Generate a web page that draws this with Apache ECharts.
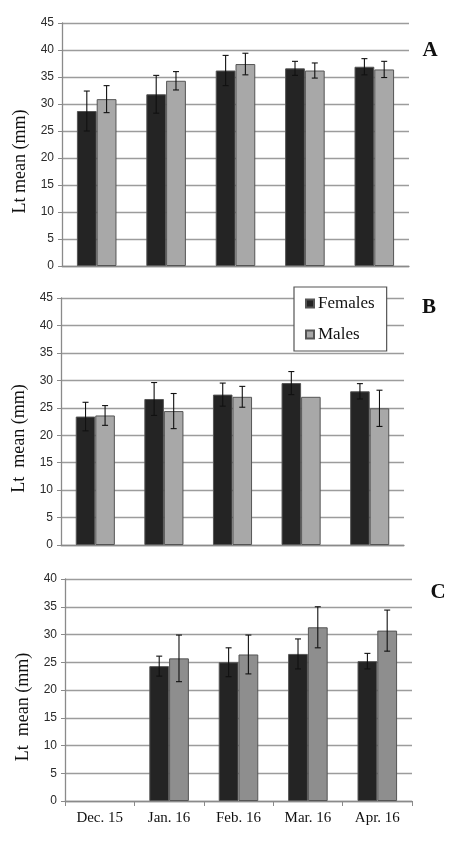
<!DOCTYPE html>
<html>
<head>
<meta charset="utf-8">
<script src="https://cdn.jsdelivr.net/npm/echarts@6/dist/echarts.min.js"></script>
<style>
  html, body { margin: 0; padding: 0; background: #fff; }
  #chart { width: 450px; height: 848px; }
</style>
</head>
<body>
<div id="chart"></div>
<script>
// data (Lt mean in mm, +/- error)
const months = ['Dec. 15', 'Jan. 16', 'Feb. 16', 'Mar. 16', 'Apr. 16']
const yTicksAB = [0, 5, 10, 15, 20, 25, 30, 35, 40, 45]
const yTicksC = [0, 5, 10, 15, 20, 25, 30, 35, 40]

const femalesA = [28.7, 31.8, 36.2, 36.6, 36.9]
const femalesErrA = [3.7, 3.5, 2.8, 1.3, 1.5]
const malesA = [30.9, 34.3, 37.4, 36.2, 36.4]
const malesErrA = [2.5, 1.7, 2.0, 1.4, 1.5]

const femalesB = [23.4, 26.6, 27.4, 29.5, 28.0]
const femalesErrB = [2.6, 3.0, 2.1, 2.1, 1.4]
const malesB = [23.6, 24.4, 27.0, 27.0, 24.9]
const malesErrB = [1.8, 3.2, 1.9, 0, 3.3]

const femalesC = [null, 24.3, 25.0, 26.5, 25.2]
const femalesErrC = [null, 1.8, 2.6, 2.7, 1.4]
const malesC = [null, 25.7, 26.4, 31.3, 30.7]
const malesErrC = [null, 4.2, 3.5, 3.7, 3.7]

const panels = [
  { letter: 'A', name: 'Lt mean (mm)', ticks: yTicksAB, f: femalesA, fe: femalesErrA, m: malesA, me: malesErrA, maleColor: '#a8a8a8' },
  { letter: 'B', name: 'Lt  mean (mm)', ticks: yTicksAB, f: femalesB, fe: femalesErrB, m: malesB, me: malesErrB, maleColor: '#a8a8a8' },
  { letter: 'C', name: 'Lt  mean (mm)', ticks: yTicksC, f: femalesC, fe: femalesErrC, m: malesC, me: malesErrC, maleColor: '#8e8e8e' }
]

const chart = echarts.init(document.getElementById('chart'))

const gridLines = { show: true, lineStyle: { color: '#9c9c9c', width: 1.3 } }
const serif = '"Liberation Serif", "Times New Roman", serif'

function errData (vals, errs) {
  return vals.map((v, i) => (v == null || !errs[i]) ? [i, '-', '-'] : [i, v - errs[i], v + errs[i]])
}

// error bar, shifted half a bar left (females) or right (males)
function errRender (side) {
  return function (params, api) {
    if (isNaN(api.value(1))) return null
    const x = api.value(0)
    const lo = api.coord([x, api.value(1)])
    const hi = api.coord([x, api.value(2)])
    const bw = api.size([1, 0])[0] * 0.57 / 2
    const cx = lo[0] + side * bw / 2
    const cap = 3
    const style = { stroke: '#111', lineWidth: 1.1 }
    return {
      type: 'group',
      children: [
        { type: 'line', shape: { x1: cx, y1: lo[1], x2: cx, y2: hi[1] }, style: style },
        { type: 'line', shape: { x1: cx - cap, y1: lo[1], x2: cx + cap, y2: lo[1] }, style: style },
        { type: 'line', shape: { x1: cx - cap, y1: hi[1], x2: cx + cap, y2: hi[1] }, style: style }
      ]
    }
  }
}

const grids = [
  { left: 62, width: 347, top: 23, height: 243 },
  { left: 61, width: 343, top: 298, height: 247 },
  { left: 65, width: 347, top: 579, height: 222 }
]

const xAxes = []
const yAxes = []
const series = []
const letters = [
  { text: 'A', x: 430, y: 51 },
  { text: 'B', x: 429, y: 308 },
  { text: 'C', x: 438, y: 593 }
]

panels.forEach((p, i) => {
  const last = i === 2
  xAxes.push({
    type: 'category',
    gridIndex: i,
    data: months,
    axisLine: { show: true, lineStyle: { color: '#8a8a8a', width: 1.3 } },
    axisTick: { show: last, length: 5, lineStyle: { color: '#8a8a8a' } },
    axisLabel: { show: last, margin: 10, color: '#111', fontFamily: serif, fontSize: 15 }
  })
  yAxes.push({
    type: 'value',
    gridIndex: i,
    min: p.ticks[0],
    max: p.ticks[p.ticks.length - 1],
    interval: p.ticks[1] - p.ticks[0],
    name: p.name,
    nameLocation: 'middle',
    nameGap: 29,
    nameTextStyle: { fontFamily: serif, fontSize: 18, color: '#111', padding: [0, 34, 0, 0] },
    axisLine: { show: true, lineStyle: { color: '#8a8a8a', width: 1.3 } },
    axisTick: { show: true, length: 4, lineStyle: { color: '#8a8a8a' } },
    axisLabel: { margin: 8, color: '#2a2a2a', fontFamily: '"Liberation Sans", Arial, sans-serif', fontSize: 12 },
    splitLine: gridLines
  })
  series.push({
    name: 'Females',
    type: 'bar',
    xAxisIndex: i,
    yAxisIndex: i,
    data: p.f.map(v => v == null ? '-' : v),
    barGap: '0%',
    barCategoryGap: '43%',
    itemStyle: { color: '#242424', borderColor: '#555', borderWidth: 1 }
  })
  series.push({
    name: 'Males',
    type: 'bar',
    xAxisIndex: i,
    yAxisIndex: i,
    data: p.m.map(v => v == null ? '-' : v),
    barGap: '0%',
    barCategoryGap: '43%',
    itemStyle: { color: p.maleColor, borderColor: '#555', borderWidth: 1 }
  })
  series.push({
    type: 'custom',
    xAxisIndex: i,
    yAxisIndex: i,
    z: 10,
    renderItem: errRender(-1),
    encode: { x: 0, y: [1, 2] },
    data: errData(p.f, p.fe)
  })
  series.push({
    type: 'custom',
    xAxisIndex: i,
    yAxisIndex: i,
    z: 10,
    renderItem: errRender(1),
    encode: { x: 0, y: [1, 2] },
    data: errData(p.m, p.me)
  })
})

const option = {
  animation: false,
  backgroundColor: '#fff',
  grid: grids,
  xAxis: xAxes,
  yAxis: yAxes,
  legend: {
    data: ['Females', 'Males'],
    orient: 'vertical',
    left: 294,
    top: 287,
    padding: [8, 12, 8, 11],
    itemGap: 14,
    itemWidth: 8,
    itemHeight: 8,
    icon: 'rect',
    backgroundColor: '#fff',
    borderColor: '#555',
    borderWidth: 1.2,
    borderRadius: 0,
    textStyle: { fontFamily: serif, fontSize: 17, color: '#111', padding: [0, 0, 0, -1] }
  },
  graphic: letters.map(l => ({
    type: 'text',
    x: l.x,
    y: l.y,
    style: { text: l.text, font: 'bold 21px ' + serif, fill: '#111', textAlign: 'center', textVerticalAlign: 'middle' }
  })),
  series: series
}

chart.setOption(option)
</script>
</body>
</html>
